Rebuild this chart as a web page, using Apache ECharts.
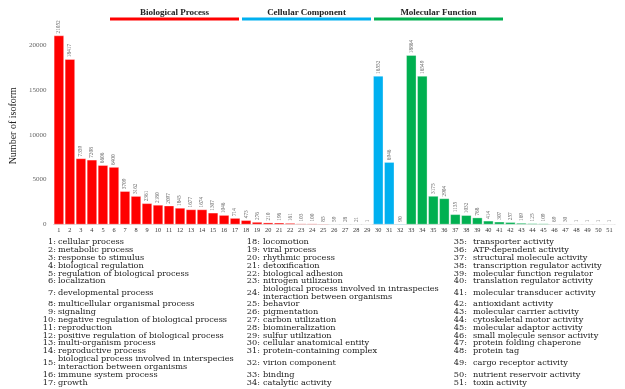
<!DOCTYPE html>
<html>
<head>
<meta charset="utf-8">
<script src="https://cdn.jsdelivr.net/npm/echarts@6/dist/echarts.min.js"></script>
<style>html,body{margin:0;padding:0;background:#fff;}#c{width:625px;height:389px;}</style>
</head>
<body>
<div id="c"></div>
<script>
// ---- data ----
var bpNames = ["cellular process","metabolic process","response to stimulus","biological regulation","regulation of biological process","localization","developmental process","multicellular organismal process","signaling","negative regulation of biological process","reproduction","positive regulation of biological process","multi-organism process","reproductive process","biological process involved in interspecies\ninteraction between organisms","immune system process","growth","locomotion","viral process","rhythmic process","detoxification","biological adhesion","nitrogen utilization","biological process involved in intraspecies\ninteraction between organisms","behavior","pigmentation","carbon utilization","biomineralization","sulfur utilization"];
var bpValues = [21052,18417,7359,7208,6606,6400,3709,3162,2361,2180,2097,1845,1677,1674,1307,1046,714,473,276,210,196,161,103,100,85,59,28,21,1];
var ccNames = ["cellular anatomical entity","protein-containing complex","virion component"];
var ccValues = [16552,6946,90];
var mfNames = ["binding","catalytic activity","transporter activity","ATP-dependent activity","structural molecule activity","transcription regulator activity","molecular function regulator","translation regulator activity","molecular transducer activity","antioxidant activity","molecular carrier activity","cytoskeletal motor activity","molecular adaptor activity","small molecule sensor activity","protein folding chaperone","protein tag","cargo receptor activity","nutrient reservoir activity","toxin activity"];
var mfValues = [18864,16549,3175,2904,1135,1032,768,414,307,257,169,125,109,69,30,1,1,1,1];
var groupTitles = ["Biological Process","Cellular Component","Molecular Function"];
var yTicks = [0,5000,10000,15000,20000];

// ---- build ----
var groupColors = ["#ff0000","#00b0f0","#00b050"];
var groups = [{n:bpNames,v:bpValues},{n:ccNames,v:ccValues},{n:mfNames,v:mfValues}];
var categories = [], seriesData = [], allNames = [];
groups.forEach(function(g, gi){
  g.v.forEach(function(val, i){
    categories.push(String(categories.length + 1));
    allNames.push(g.n[i]);
    seriesData.push({value: val, itemStyle: {color: groupColors[gi]}});
  });
});

var chart = echarts.init(document.getElementById('c'), null, {renderer:'canvas'});
var serif = '"Liberation Serif", "Times New Roman", serif';
var legendFont = '"DejaVu Serif", serif';

// legend layout
var rowY = [242,250,258,266,273.5,281,293,304,312,320,328,335.5,343,351,363,375,383];
var cols = [{numX:56, txtX:58},{numX:260, txtX:263},{numX:467, txtX:473}];
var graphics = [];
allNames.forEach(function(name, idx){
  var col = Math.floor(idx / 17), row = idx % 17;
  var c = cols[col];
  var y = rowY[row];
  graphics.push({type:'text', x: c.numX, y: y, style:{text: (idx+1)+':', font:'8.2px '+legendFont, fill:'#222', textAlign:'right', textVerticalAlign:'middle'}, silent:true});
  graphics.push({type:'text', x: c.txtX, y: y, style:{text: name, font:'8.2px '+legendFont, fill:'#222', textAlign:'left', textVerticalAlign:'middle', lineHeight: 8}, silent:true});
});
// group header bars
var headers = [{x1:110,x2:239},{x1:242,x2:371},{x1:374,x2:503}];
headers.forEach(function(h, i){
  graphics.push({type:'rect', shape:{x:h.x1, y:17.5, width:h.x2-h.x1, height:3}, style:{fill:groupColors[i]}, silent:true});
  graphics.push({type:'text', x:(h.x1+h.x2)/2, y:12.5, style:{text:groupTitles[i], font:'bold 9px '+serif, fill:'#222', textAlign:'center', textVerticalAlign:'middle'}, silent:true});
});

chart.setOption({
  animation:false,
  grid:{left:43, right:10, top:27, bottom:164.5},
  xAxis:{type:'category', data:categories,
    axisLine:{show:true, lineStyle:{color:'#e0e0e0', width:1}},
    axisTick:{show:false},
    axisLabel:{interval:0, fontSize:6.3, color:'#333', fontFamily:serif, margin:3}},
  yAxis:{type:'value', min:0, max:22000, interval:5000,
    name:'Number of isoform', nameLocation:'middle', nameGap:35, nameRotate:90,
    nameTextStyle:{fontSize:10, fontFamily:serif, color:'#222'},
    axisLine:{show:false}, axisTick:{show:false}, splitLine:{show:false},
    axisLabel:{showMaxLabel:false, fontSize:7, color:'#666', fontFamily:serif, margin:7,
      formatter:function(v){ return yTicks.indexOf(v) >= 0 ? String(v) : ''; }}},
  series:[{type:'bar', data:seriesData, barCategoryGap:'8%',
    itemStyle:{borderColor:'rgba(255,255,255,0.55)', borderWidth:0.6},
    label:{show:true, position:'top', rotate:90, align:'left', verticalAlign:'middle', distance:2,
      fontSize:5.3, color:'#666', fontFamily:serif}}],
  graphic: graphics
});
</script>
</body>
</html>
